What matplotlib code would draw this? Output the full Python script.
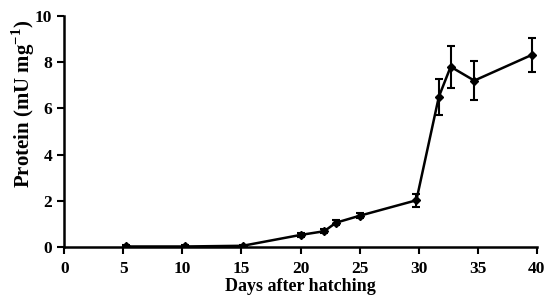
import numpy as np
import matplotlib.pyplot as plt

plt.rcParams['font.family'] = ['Liberation Serif', 'DejaVu Serif']
plt.rcParams['mathtext.fontset'] = 'custom'
plt.rcParams['mathtext.rm'] = 'Liberation Serif'
plt.rcParams['mathtext.bf'] = 'Liberation Serif:bold'

# Values
days = [5.2, 10.2, 15.1, 20.0, 22.0, 23.0, 25.0, 29.8, 31.7, 32.7, 34.7, 39.6]
protein = [0.02, 0.02, 0.05, 0.52, 0.68, 1.05, 1.35, 2.02, 6.5, 7.8, 7.2, 8.32]
err = [0.05, 0.05, 0.05, 0.08, 0.08, 0.1, 0.1, 0.27, 0.77, 0.9, 0.85, 0.74]

xticks = [0, 5, 10, 15, 20, 25, 30, 35, 40]
yticks = [0, 2, 4, 6, 8, 10]

fig = plt.figure(figsize=(5.49, 3.06), dpi=100)
ax = fig.add_axes([0.117, 0.193, 0.861, 0.755])

ax.errorbar(days, protein, yerr=err, color='black', lw=1.8, marker='D', ms=4,
            capsize=3, elinewidth=1.5, capthick=1.5)

ax.set_xlim(0, 40)
ax.set_ylim(0, 10)
ax.set_xticks(xticks)
ax.set_yticks(yticks)
ax.spines['top'].set_visible(False)
ax.spines['right'].set_visible(False)
for s in ['left', 'bottom']:
    ax.spines[s].set_linewidth(1.8)
ax.tick_params(direction='out', length=5, width=1.5, labelsize=12.5)
ax.tick_params(axis='x', pad=5)
for lab in ax.get_xticklabels() + ax.get_yticklabels():
    lab.set_fontweight('bold')

ax.set_xlabel('Days after hatching', fontsize=13, fontweight='bold', labelpad=1)
ax.set_ylabel('Protein (mU mg$^{\\mathbf{-1}}$)', fontsize=15, fontweight='semibold')
ax.yaxis.set_label_coords(-0.058, 0.62)

fig.savefig('out.png', dpi=100)
